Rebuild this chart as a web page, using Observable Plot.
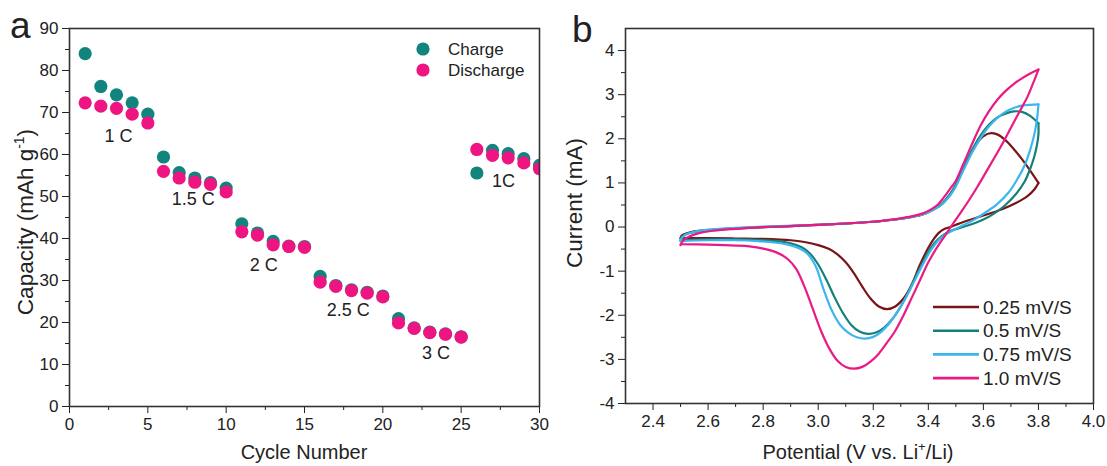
<!DOCTYPE html>
<html><head><meta charset="utf-8">
<script src="https://cdn.jsdelivr.net/npm/d3@7"></script>
<script src="https://cdn.jsdelivr.net/npm/@observablehq/plot@0.6"></script>
<style>
body{margin:0;background:#fff;}
#wrap{position:relative;width:1107px;height:466px;overflow:hidden;background:#fff;}
#a,#b{position:absolute;top:0;}
#a{left:0;} #b{left:553px;}
</style></head><body><div id="wrap"><div id="a"></div><div id="b"></div></div>
<script>
// ---------- Panel a data ----------
const cycles = d3.range(1, 31);
const charge = [84.0, 76.2, 74.2, 72.3, 69.6, 59.4, 55.7, 54.4, 53.3, 52.0,
                43.5, 41.3, 39.3, 38.2, 38.1, 31.0, 28.8, 27.8, 27.2, 26.3,
                20.9, 18.7, 17.7, 17.3, 16.6, 55.6, 61.0, 60.2, 59.0, 57.4];
const discharge = [72.3, 71.5, 71.0, 69.6, 67.5, 56.0, 54.4, 53.4, 52.9, 51.1,
                   41.6, 40.8, 38.5, 38.1, 37.9, 29.6, 28.6, 27.6, 27.0, 26.1,
                   19.9, 18.6, 17.6, 17.2, 16.5, 61.2, 59.8, 59.2, 58.0, 56.6];
const rateLabels = ["1 C", "1.5 C", "2 C", "2.5 C", "3 C", "1C"];
const rateLabelX = [3.13, 7.9, 12.4, 17.8, 23.4, 27.7];
const rateLabelY = [64.3, 49.3, 33.6, 22.9, 12.6, 53.6];
const seriesA = ["Charge", "Discharge"];
const colorsA = ["#11857d", "#ee1582"];
const xTicksA = d3.range(0, 31, 5);
const yTicksA = d3.range(0, 91, 10);

// ---------- Panel b data (potential V, current mA), loop traced from 2.5 V ----------
const rates = ["0.25 mV/S", "0.5 mV/S", "0.75 mV/S", "1.0 mV/S"];
const colorsB = ["#7b1416", "#15807a", "#3db6ee", "#ea1a84"];
const cv025 = [[2.50,-0.25],[2.505,-0.19],[2.52,-0.15],[2.55,-0.1],[2.60,-0.07],[2.70,-0.03],[2.80,0.0],[2.90,0.02],[3.00,0.05],[3.10,0.08],[3.20,0.12],[3.28,0.17],[3.34,0.23],[3.39,0.31],[3.42,0.4],[3.445,0.5],[3.465,0.63],[3.48,0.75],[3.50,0.95],[3.53,1.35],[3.56,1.72],[3.59,2.0],[3.62,2.12],[3.65,2.1],[3.68,1.97],[3.71,1.77],[3.74,1.54],[3.77,1.28],[3.80,1.0],
  [3.785,0.85],[3.76,0.7],[3.72,0.55],[3.67,0.41],[3.62,0.3],[3.57,0.2],[3.53,0.12],[3.50,0.05],[3.48,0.0],[3.46,-0.04],[3.44,-0.12],[3.42,-0.27],[3.40,-0.47],[3.37,-0.85],[3.34,-1.3],[3.31,-1.62],[3.28,-1.8],[3.25,-1.86],[3.22,-1.8],[3.19,-1.62],[3.16,-1.35],[3.13,-1.05],[3.10,-0.8],[3.07,-0.62],[3.04,-0.5],[3.00,-0.41],[2.95,-0.34],[2.90,-0.3],[2.80,-0.27],[2.70,-0.26],[2.60,-0.25],[2.50,-0.25]];
const cv05 = [[2.50,-0.30],[2.505,-0.22],[2.52,-0.16],[2.55,-0.11],[2.60,-0.07],[2.70,-0.03],[2.80,0.0],[2.90,0.02],[3.00,0.05],[3.10,0.08],[3.20,0.12],[3.28,0.17],[3.34,0.23],[3.39,0.31],[3.42,0.4],[3.445,0.5],[3.465,0.63],[3.48,0.75],[3.50,0.95],[3.53,1.37],[3.56,1.76],[3.59,2.08],[3.62,2.32],[3.65,2.48],[3.68,2.57],[3.71,2.62],[3.74,2.61],[3.77,2.52],[3.80,2.35],
  [3.80,2.1],[3.795,1.87],[3.785,1.6],[3.77,1.32],[3.75,1.03],[3.72,0.76],[3.68,0.5],[3.64,0.31],[3.60,0.17],[3.56,0.07],[3.52,-0.01],[3.48,-0.09],[3.45,-0.2],[3.42,-0.38],[3.39,-0.68],[3.36,-1.05],[3.33,-1.45],[3.30,-1.8],[3.27,-2.08],[3.24,-2.28],[3.21,-2.39],[3.18,-2.42],[3.15,-2.37],[3.12,-2.22],[3.09,-1.95],[3.06,-1.6],[3.03,-1.2],[3.00,-0.85],[2.97,-0.6],[2.94,-0.46],[2.90,-0.37],[2.85,-0.32],[2.78,-0.29],[2.70,-0.28],[2.60,-0.28],[2.50,-0.30]];
const cv075 = [[2.50,-0.32],[2.505,-0.24],[2.52,-0.17],[2.55,-0.11],[2.60,-0.06],[2.70,-0.02],[2.80,0.01],[2.90,0.03],[3.00,0.05],[3.10,0.08],[3.20,0.12],[3.28,0.17],[3.34,0.23],[3.39,0.31],[3.42,0.4],[3.445,0.49],[3.465,0.61],[3.48,0.72],[3.50,0.92],[3.53,1.32],[3.56,1.7],[3.59,2.02],[3.62,2.28],[3.65,2.47],[3.68,2.61],[3.71,2.7],[3.74,2.75],[3.77,2.77],[3.80,2.78],
  [3.795,2.45],[3.785,2.1],[3.77,1.75],[3.75,1.4],[3.72,1.05],[3.69,0.77],[3.65,0.52],[3.61,0.34],[3.57,0.18],[3.53,0.05],[3.50,-0.04],[3.47,-0.14],[3.44,-0.28],[3.41,-0.52],[3.38,-0.85],[3.35,-1.22],[3.32,-1.58],[3.29,-1.9],[3.26,-2.17],[3.23,-2.37],[3.20,-2.49],[3.17,-2.53],[3.14,-2.5],[3.11,-2.4],[3.08,-2.22],[3.05,-1.9],[3.02,-1.42],[2.99,-0.88],[2.96,-0.6],[2.93,-0.48],[2.89,-0.4],[2.84,-0.35],[2.78,-0.32],[2.70,-0.3],[2.60,-0.3],[2.50,-0.32]];
const cv10 = [[2.50,-0.41],[2.51,-0.3],[2.53,-0.22],[2.56,-0.15],[2.61,-0.09],[2.70,-0.04],[2.80,0.0],[2.90,0.02],[3.00,0.05],[3.10,0.08],[3.20,0.12],[3.28,0.18],[3.34,0.24],[3.38,0.31],[3.41,0.4],[3.435,0.51],[3.455,0.66],[3.475,0.83],[3.50,1.05],[3.53,1.47],[3.56,1.9],[3.59,2.3],[3.62,2.62],[3.65,2.88],[3.68,3.08],[3.71,3.24],[3.74,3.37],[3.77,3.48],[3.80,3.57],
  [3.78,3.25],[3.76,2.95],[3.73,2.6],[3.70,2.25],[3.67,1.9],[3.64,1.57],[3.61,1.25],[3.58,0.93],[3.55,0.63],[3.52,0.35],[3.49,0.08],[3.46,-0.2],[3.43,-0.48],[3.40,-0.8],[3.37,-1.2],[3.34,-1.6],[3.31,-2.0],[3.28,-2.35],[3.25,-2.62],[3.22,-2.87],[3.19,-3.05],[3.16,-3.17],[3.13,-3.21],[3.10,-3.17],[3.07,-3.03],[3.04,-2.75],[3.01,-2.35],[2.98,-1.85],[2.95,-1.35],[2.92,-0.95],[2.89,-0.73],[2.85,-0.58],[2.80,-0.49],[2.75,-0.44],[2.70,-0.42],[2.60,-0.4],[2.50,-0.39]];
const loops = [cv025, cv05, cv075, cv10];
const xTicksB = [2.4, 2.6, 2.8, 3.0, 3.2, 3.4, 3.6, 3.8, 4.0];
const yTicksB = d3.range(-4, 5, 1);

const FONT = '"Liberation Sans", Arial, Helvetica, sans-serif';
const INK = "#222";

// ---------- Panel a ----------
const rowsA = [];
seriesA.forEach((s, k) => {
  const vals = k === 0 ? charge : discharge;
  cycles.forEach((c, j) => rowsA.push({series: s, cycle: c, value: vals[j]}));
});
const annA = rateLabels.map((t, j) => ({t, x: rateLabelX[j], y: rateLabelY[j]}));

const pa = Plot.plot({
  width: 553, height: 466,
  marginLeft: 69, marginRight: 14, marginTop: 28, marginBottom: 60,
  style: {fontFamily: FONT, fontSize: "17px", color: INK, background: "white", overflow: "visible"},
  x: {domain: [0, 30]},
  y: {domain: [0, 90]},
  color: {domain: seriesA, range: colorsA},
  marks: [
    Plot.axisX({ticks: xTicksA, tickSize: 7, tickPadding: 4, label: null, tickFormat: d => String(d)}),
    Plot.axisX({ticks: d3.range(2.5, 30, 5), tickSize: 4, tickFormat: () => "", label: null}),
    Plot.axisY({ticks: yTicksA, tickSize: 7, tickPadding: 4, label: null, tickFormat: d => String(d)}),
    Plot.axisY({ticks: d3.range(5, 90, 10), tickSize: 4, tickFormat: () => "", label: null}),
    Plot.dot(rowsA, {x: "cycle", y: "value", fill: "series", r: 6.6, clip: true}),
    Plot.text(annA, {x: "x", y: "y", text: "t", fontSize: 18, fill: INK}),
    Plot.frame({stroke: "#333", strokeWidth: 1.6})
  ]
});
document.getElementById("a").appendChild(pa);

// ---------- Panel b ----------
const rowsB = [];
loops.forEach((pts, k) => {
  let vi = 0;
  pts.forEach((p, j) => { if (p[0] > pts[vi][0]) vi = j; });
  pts.forEach((p, j) => {
    if (j <= vi) rowsB.push({rate: rates[k], branch: rates[k] + "-ox", v: p[0], i: p[1]});
  });
  pts.forEach((p, j) => {
    if (j >= vi) rowsB.push({rate: rates[k], branch: rates[k] + "-red", v: p[0], i: p[1]});
  });
});

const pb = Plot.plot({
  width: 554, height: 466,
  marginLeft: 72, marginRight: 14, marginTop: 28, marginBottom: 63,
  style: {fontFamily: FONT, fontSize: "17px", color: INK, background: "white", overflow: "visible"},
  x: {domain: [2.3, 4.0]},
  y: {domain: [-4, 4.5]},
  color: {domain: rates, range: colorsB},
  marks: [
    Plot.axisX({ticks: xTicksB, tickSize: 7, tickPadding: 4, label: null, tickFormat: d3.format(".1f")}),
    Plot.axisX({ticks: d3.range(2.5, 4.0, 0.2), tickSize: 4, tickFormat: () => "", label: null}),
    Plot.axisY({ticks: yTicksB, tickSize: 7, tickPadding: 4, label: null, tickFormat: d => String(d)}),
    Plot.axisY({ticks: d3.range(-3.5, 4.5, 1), tickSize: 4, tickFormat: () => "", label: null}),
    Plot.line(rowsB, {x: "v", y: "i", z: "branch", stroke: "rate", strokeWidth: 2.2, curve: "catmull-rom"}),
    Plot.frame({stroke: "#333", strokeWidth: 1.6})
  ]
});
document.getElementById("b").appendChild(pb);

// ---------- Titles, panel letters, legends ----------
function addText(svg, x, y, size, parts, opts = {}) {
  const t = d3.select(svg).append("text")
    .attr("x", x).attr("y", y)
    .attr("font-family", FONT).attr("font-size", size)
    .attr("fill", INK)
    .attr("text-anchor", opts.anchor || "middle");
  if (opts.rotate) t.attr("transform", `rotate(-90, ${x}, ${y})`);
  parts.forEach(p => {
    if (typeof p === "string") t.append("tspan").text(p);
    else t.append("tspan").attr("font-size", p.size).attr("dy", p.dy).text(p.t);
  });
  return t;
}
// Panel a
addText(pa, 10, 38, 37, ["a"], {anchor: "start"});
addText(pa, 304, 459, 20, ["Cycle Number"]);
addText(pa, 33, 222, 22.5, ["Capacity (mAh g", {t: "-1", size: 14, dy: -9}, {t: ")", size: 22.5, dy: 9}], {rotate: true});
seriesA.forEach((s, k) => {
  d3.select(pa).append("circle").attr("cx", 423).attr("cy", 49 + k * 21).attr("r", 6.6).attr("fill", colorsA[k]);
  addText(pa, 448, 55 + k * 21, 17, [s], {anchor: "start"});
});
// Panel b
addText(pb, 19, 42, 37, ["b"], {anchor: "start"});
addText(pb, 305, 459, 20, ["Potential (V vs. Li", {t: "+", size: 13, dy: -8}, {t: "/Li)", size: 20, dy: 8}]);
addText(pb, 29, 203, 22.5, ["Current (mA)"], {rotate: true});
rates.forEach((r, k) => {
  const y = 307 + k * 23.7;
  d3.select(pb).append("line").attr("x1", 380).attr("x2", 426).attr("y1", y).attr("y2", y)
    .attr("stroke", colorsB[k]).attr("stroke-width", 2.6);
  addText(pb, 430, y + 6.5, 19, [r], {anchor: "start"});
});
</script>
</body></html>
